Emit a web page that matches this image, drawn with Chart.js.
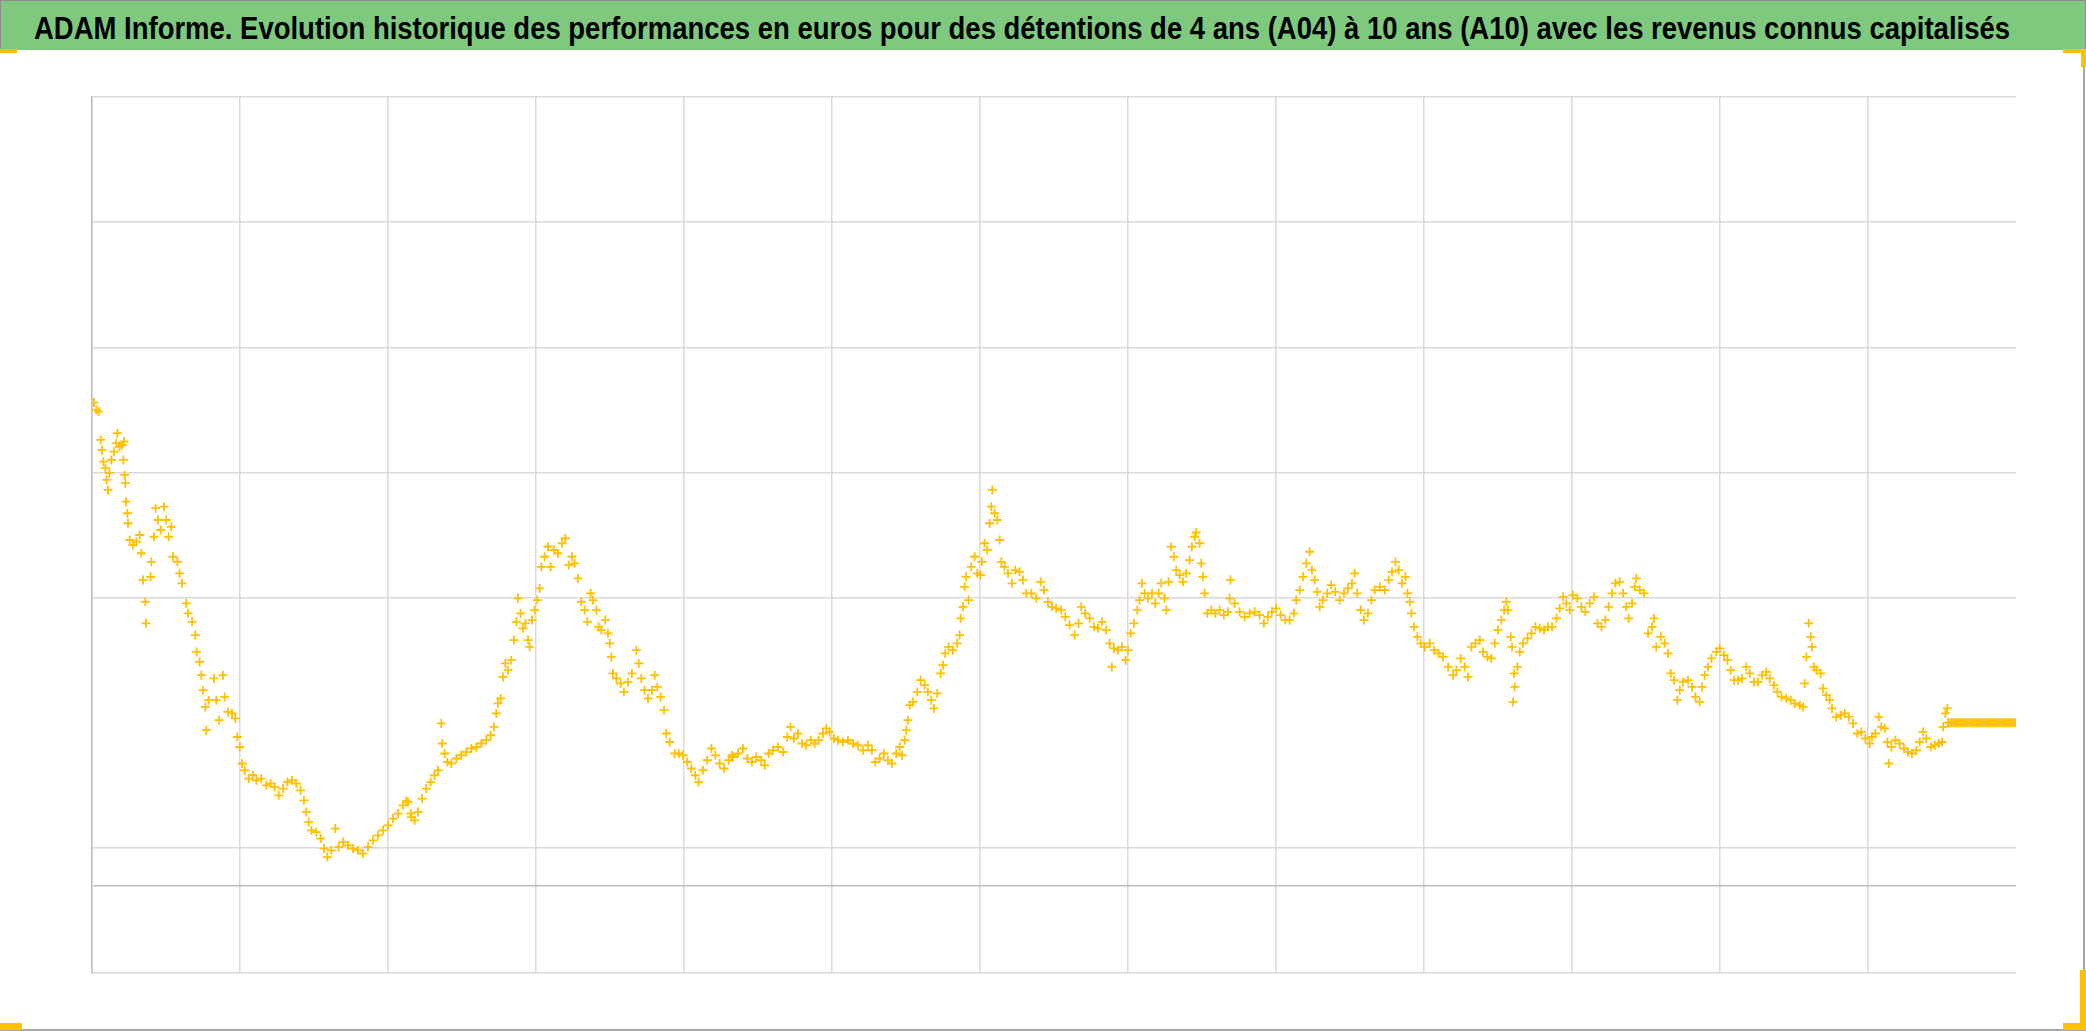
<!DOCTYPE html>
<html>
<head>
<meta charset="utf-8">
<title>ADAM Informe</title>
<script src="https://cdn.jsdelivr.net/npm/chart.js@4/dist/chart.umd.min.js"></script>
<style>
    html, body { margin: 0; padding: 0; background: #fff; }
    #wrap { position: relative; width: 2086px; height: 1031px; overflow: hidden; }
    #chart { position: absolute; left: 0; top: 0; }
    #title {
        position: absolute; left: 0; top: 0; width: 2084px; height: 49px;
        background: #7ec97e; border: 1px solid #8c8c8c; border-bottom: none;
    }
    #title span {
        position: absolute; left: 33px; top: 12px; color: #000;
        font: bold 31px 'Liberation Sans Narrow', 'Liberation Sans', sans-serif;
        line-height: 1; white-space: nowrap; transform-origin: 0 0;
    }
    .frame { position: absolute; background: #a6a6a6; }
    .handle { position: absolute; background: #ffc000; }
</style>
</head>
<body>
<div id="wrap">
    <canvas id="chart" width="2086" height="1031"></canvas>
    <div id="title"><span>ADAM Informe. Evolution historique des performances en euros pour des détentions de 4 ans (A04) à 10 ans (A10) avec les revenus connus capitalisés</span></div>
    <div class="frame" style="left:2083px;top:50px;width:2px;height:981px"></div>
    <div class="frame" style="left:0;top:1029px;width:2086px;height:2px"></div>
    <div class="handle" style="left:0;top:49px;width:17px;height:4px"></div>
    <div class="handle" style="left:2063px;top:49px;width:23px;height:4px"></div>
    <div class="handle" style="left:2081px;top:49px;width:5px;height:18px"></div>
    <div class="handle" style="left:0;top:1023px;width:22px;height:7px"></div>
    <div class="handle" style="left:2063px;top:1023px;width:23px;height:7px"></div>
    <div class="handle" style="left:2080px;top:970px;width:6px;height:60px"></div>
</div>
<script>
// [year, performance %]
const perf2011_2013 = [
    [2011.013,192.9],[2011.029,190.0],[2011.045,189.3],[2011.059,178.0],[2011.068,174.0],[2011.077,169.3],
    [2011.090,166.7],[2011.099,162.0],[2011.108,158.0],[2011.117,164.7],[2011.131,170.0],[2011.149,173.3],
    [2011.164,176.7],[2011.171,180.7],[2011.187,175.3],[2011.203,176.0],[2011.216,177.3],[2011.212,170.0],
    [2011.221,164.0],[2011.225,160.7],[2011.230,153.3],[2011.239,148.7],[2011.243,144.7],[2011.255,138.0],
    [2011.277,136.0],[2011.300,137.3],[2011.322,140.0],[2011.333,132.7],[2011.345,122.0],[2011.360,113.3],
    [2011.365,104.7],[2011.396,123.3],[2011.401,129.3],[2011.419,139.3],[2011.430,150.7],[2011.446,146.0],
    [2011.464,142.0],[2011.486,151.3],[2011.502,146.0],[2011.518,139.3],[2011.536,143.3],[2011.547,131.3],
    [2011.577,129.3],[2011.592,124.7],[2011.608,120.7],[2011.637,112.7],[2011.649,108.7],[2011.676,105.3],
    [2011.698,100.0],[2011.707,93.3],[2011.727,89.3],[2011.739,84.0],[2011.750,78.0],[2011.766,71.3],
    [2011.772,62.0],[2011.788,74.0],[2011.824,82.7],[2011.840,74.0],[2011.858,66.0],[2011.885,84.0],
    [2011.896,75.3],[2011.919,69.3],[2011.946,68.7],[2011.968,66.7],[2011.982,59.3],[2011.998,55.3],
    [2012.014,48.7],[2012.032,46.0],[2012.059,42.7],[2012.088,44.0],[2012.110,42.0],[2012.144,42.7],
    [2012.178,40.0],[2012.207,40.7],[2012.234,39.3],[2012.261,36.0],[2012.291,38.7],[2012.320,41.3],
    [2012.351,42.0],[2012.380,40.7],[2012.410,38.0],[2012.432,34.0],[2012.448,29.3],[2012.464,25.3],
    [2012.482,22.0],[2012.516,21.3],[2012.545,18.7],[2012.568,14.7],[2012.590,11.3],[2012.617,14.0],
    [2012.644,22.7],[2012.667,15.3],[2012.696,17.3],[2012.730,16.0],[2012.764,14.7],[2012.797,14.0],
    [2012.831,12.7],[2012.865,15.3],[2012.899,18.0],[2012.932,20.0],[2012.966,22.0],[2013.000,24.0],
    [2013.034,26.7],[2013.068,28.7],[2013.101,32.0],[2013.124,33.7],[2013.153,28.7]
];
const perf2013_2015 = [
    [2013.135,33.3],[2013.158,27.3],[2013.180,26.0],[2013.203,29.3],[2013.230,34.7],[2013.259,38.7],
    [2013.288,41.3],[2013.315,44.0],[2013.338,46.0],[2013.360,64.7],[2013.367,56.7],[2013.383,52.7],
    [2013.401,49.3],[2013.428,48.7],[2013.462,50.7],[2013.495,52.0],[2013.529,53.3],[2013.563,54.7],
    [2013.597,55.3],[2013.630,56.7],[2013.664,58.0],[2013.694,60.0],[2013.716,63.3],[2013.732,68.7],
    [2013.743,72.7],[2013.761,74.7],[2013.777,83.3],[2013.793,88.7],[2013.811,86.0],[2013.833,90.0],
    [2013.851,98.0],[2013.867,105.3],[2013.878,114.7],[2013.896,108.7],[2013.912,102.7],[2013.928,104.7],
    [2013.946,98.0],[2013.957,95.3],[2013.973,106.0],[2013.991,110.0],[2014.009,114.0],[2014.025,118.7],
    [2014.036,127.3],[2014.058,131.3],[2014.081,135.3],[2014.099,127.3],[2014.121,134.0],[2014.148,132.7],
    [2014.176,136.7],[2014.198,138.7],[2014.221,128.0],[2014.243,131.3],[2014.261,128.7],[2014.284,122.7],
    [2014.306,113.3],[2014.329,110.0],[2014.347,105.3],[2014.369,116.7],[2014.385,114.0],[2014.408,110.0],
    [2014.423,103.3],[2014.441,102.0],[2014.468,106.0],[2014.486,100.7],[2014.498,96.7],[2014.509,91.3],
    [2014.520,84.7],[2014.543,82.7],[2014.572,80.7],[2014.594,77.3],[2014.621,81.3],[2014.648,84.7],
    [2014.678,94.0],[2014.694,88.7],[2014.712,82.7],[2014.734,78.0],[2014.757,74.7],[2014.784,78.0],
    [2014.802,84.0],[2014.820,79.3],[2014.842,75.3],[2014.865,70.0],[2014.880,60.7],[2014.903,57.3],
    [2014.937,52.7],[2014.964,52.7],[2014.993,52.0],[2015.022,49.3],[2015.049,46.7],[2015.076,44.0],
    [2015.099,41.3],[2015.128,46.0],[2015.157,50.0],[2015.185,54.7],[2015.212,52.0],[2015.241,48.7],
    [2015.270,46.7],[2015.302,50.0],[2015.324,52.0]
];
const perf2015_2017 = [
    [2015.331,51.3],[2015.365,52.7],[2015.398,54.7],[2015.428,50.7],[2015.459,49.3],[2015.488,51.3],
    [2015.522,50.0],[2015.545,48.0],[2015.572,52.7],[2015.601,54.0],[2015.635,55.3],[2015.669,53.3],
    [2015.698,59.3],[2015.720,63.3],[2015.743,58.7],[2015.770,60.7],[2015.797,56.7],[2015.826,56.0],
    [2015.856,58.0],[2015.883,56.7],[2015.910,58.0],[2015.939,60.7],[2015.961,62.7],[2015.984,61.3],
    [2016.013,58.7],[2016.040,58.0],[2016.074,57.3],[2016.108,58.0],[2016.142,56.7],[2016.175,56.0],
    [2016.209,54.0],[2016.243,56.0],[2016.270,54.0],[2016.292,49.3],[2016.322,50.7],[2016.351,52.7],
    [2016.378,50.0],[2016.405,48.7],[2016.434,52.7],[2016.457,55.3],[2016.473,52.0],[2016.491,58.0],
    [2016.502,62.0],[2016.513,66.0],[2016.525,72.0],[2016.547,73.3],[2016.576,77.3],[2016.599,82.0],
    [2016.626,80.0],[2016.648,77.3],[2016.671,74.0],[2016.689,70.7],[2016.711,76.7],[2016.734,84.7],
    [2016.750,88.0],[2016.765,92.7],[2016.788,95.3],[2016.817,94.0],[2016.846,96.7],[2016.862,100.0],
    [2016.869,106.7],[2016.885,111.3],[2016.896,119.3],[2016.907,123.3],[2016.923,114.0],[2016.941,127.3],
    [2016.964,131.3],[2016.982,124.7],[2017.004,124.0],[2017.013,129.3],[2017.031,136.7],[2017.049,134.0],
    [2017.065,144.7],[2017.076,151.3],[2017.083,158.0],[2017.099,148.7],[2017.117,146.0],[2017.133,138.0],
    [2017.144,129.3],[2017.166,127.3],[2017.189,124.7],[2017.216,120.7],[2017.238,126.0],[2017.268,125.3],
    [2017.290,122.0],[2017.313,116.7],[2017.347,116.7],[2017.380,114.7],[2017.410,121.3],[2017.432,118.0],
    [2017.459,113.3]
];
const perf2017_2019 = [
    [2017.486,111.3],[2017.515,110.7],[2017.549,110.0],[2017.576,107.3],[2017.605,104.0],[2017.639,100.0],
    [2017.666,104.7],[2017.684,111.3],[2017.711,108.7],[2017.741,106.7],[2017.770,103.3],[2017.797,102.7],
    [2017.824,105.3],[2017.853,102.0],[2017.876,96.7],[2017.891,87.3],[2017.905,94.7],[2017.932,94.0],
    [2017.959,95.3],[2017.984,90.0],[2018.000,94.0],[2018.018,100.7],[2018.040,104.7],[2018.063,110.0],
    [2018.078,114.0],[2018.094,120.7],[2018.112,116.7],[2018.135,114.7],[2018.162,116.7],[2018.184,112.7],
    [2018.207,116.7],[2018.225,120.7],[2018.247,114.7],[2018.259,110.0],[2018.274,121.3],[2018.292,135.3],
    [2018.310,131.3],[2018.326,126.0],[2018.349,124.0],[2018.371,121.3],[2018.394,124.7],[2018.416,130.0],
    [2018.432,135.3],[2018.450,139.3],[2018.461,141.0],[2018.484,136.7],[2018.495,128.7],[2018.506,123.3],
    [2018.518,116.7],[2018.536,108.7],[2018.563,110.0],[2018.590,108.7],[2018.619,110.0],[2018.648,108.0],
    [2018.675,109.3],[2018.693,122.0],[2018.686,114.7],[2018.720,112.7],[2018.754,109.3],[2018.788,107.3],
    [2018.822,108.7],[2018.855,109.3],[2018.889,108.0],[2018.918,104.7],[2018.945,107.3],[2018.972,109.3],
    [2019.002,110.7],[2019.031,108.0],[2019.063,106.0],[2019.092,106.0],[2019.121,108.7],[2019.137,114.0],
    [2019.160,118.0],[2019.182,123.3],[2019.205,128.7],[2019.227,133.3],[2019.243,126.0],[2019.261,122.0],
    [2019.279,117.3],[2019.295,111.3],[2019.317,114.0],[2019.346,116.7],[2019.373,120.0],[2019.400,117.3],
    [2019.430,114.0],[2019.459,116.7],[2019.486,118.7],[2019.513,120.7],[2019.531,124.7],[2019.549,116.7],
    [2019.572,110.0],[2019.594,106.0],[2019.621,108.7]
];
const perf2019_2021 = [
    [2019.645,114.0],[2019.667,118.0],[2019.701,119.3],[2019.735,118.0],[2019.762,122.0],[2019.784,125.3],
    [2019.807,129.3],[2019.829,126.0],[2019.852,120.7],[2019.874,123.3],[2019.888,116.7],[2019.904,113.3],
    [2019.915,108.7],[2019.933,103.3],[2019.955,99.3],[2019.978,96.7],[2020.005,95.3],[2020.039,96.7],
    [2020.068,94.0],[2020.099,92.7],[2020.129,91.3],[2020.163,87.3],[2020.196,84.0],[2020.219,86.0],
    [2020.248,90.7],[2020.275,87.3],[2020.298,83.3],[2020.320,95.3],[2020.347,96.7],[2020.377,98.0],
    [2020.399,93.3],[2020.428,91.3],[2020.455,90.7],[2020.478,96.7],[2020.500,102.0],[2020.523,106.0],
    [2020.541,110.0],[2020.557,113.3],[2020.568,110.0],[2020.586,99.3],[2020.595,95.3],[2020.609,84.7],
    [2020.613,79.3],[2020.602,73.3],[2020.631,87.3],[2020.647,93.3],[2020.669,96.7],[2020.699,98.7],
    [2020.726,100.7],[2020.753,103.3],[2020.782,102.7],[2020.811,102.0],[2020.838,103.3],[2020.865,103.3],
    [2020.895,106.7],[2020.917,110.7],[2020.940,115.3],[2020.962,112.7],[2020.985,110.0],[2021.007,116.0],
    [2021.036,114.7],[2021.063,111.3],[2021.090,109.3],[2021.120,112.7],[2021.149,115.3],[2021.172,104.7],
    [2021.199,103.3],[2021.226,106.0],[2021.248,111.3],[2021.271,116.7],[2021.293,120.7],[2021.322,121.3],
    [2021.345,116.7],[2021.367,111.3],[2021.383,106.7],[2021.406,112.7],[2021.424,119.3],[2021.435,122.7],
    [2021.458,118.0],[2021.487,116.7],[2021.514,100.7],[2021.541,103.3],[2021.554,106.7],[2021.570,95.3],
    [2021.600,99.3],[2021.626,96.7],[2021.649,92.7],[2021.667,84.7],[2021.690,82.0],[2021.712,74.0],
    [2021.728,78.0],[2021.750,81.3],[2021.784,82.0],[2021.811,79.3]
];
const perf2021_2023 = [
    [2021.834,75.3],[2021.863,73.3],[2021.879,79.3],[2021.897,84.0],[2021.919,87.3],[2021.942,90.7],
    [2021.975,93.3],[2021.998,94.7],[2022.027,92.0],[2022.050,90.0],[2022.072,86.0],[2022.095,82.0],
    [2022.122,82.0],[2022.149,82.7],[2022.178,87.3],[2022.201,84.7],[2022.230,81.3],[2022.257,81.3],
    [2022.284,84.0],[2022.313,85.3],[2022.336,82.7],[2022.365,80.0],[2022.388,77.3],[2022.415,75.3],
    [2022.448,74.7],[2022.478,74.0],[2022.505,72.7],[2022.539,72.0],[2022.561,71.3],[2022.572,80.7],
    [2022.584,91.3],[2022.599,104.7],[2022.613,99.3],[2022.622,95.3],[2022.635,87.3],[2022.651,86.0],
    [2022.680,84.7],[2022.696,78.7],[2022.719,76.0],[2022.741,74.0],[2022.757,70.7],[2022.786,67.3],
    [2022.816,68.0],[2022.843,68.7],[2022.870,67.3],[2022.899,64.7],[2022.928,60.7],[2022.955,61.3],
    [2022.982,58.7],[2023.011,56.7],[2023.027,59.3],[2023.050,60.7],[2023.072,67.3],[2023.090,63.3],
    [2023.113,62.7],[2023.131,57.3],[2023.140,48.7],[2023.158,55.3],[2023.185,58.0],[2023.214,56.7],
    [2023.243,54.7],[2023.270,53.3],[2023.297,52.7],[2023.327,54.0],[2023.349,57.3],[2023.372,61.3],
    [2023.394,58.7],[2023.424,55.3],[2023.451,56.0],[2023.478,56.7],[2023.500,57.3],[2023.507,63.3],
    [2023.523,68.7],[2023.536,70.7]
];
// last months: known revenues only, flat
const perfKnown = [
    [2023.540,65],[2023.552,65],[2023.564,65],[2023.576,65],[2023.588,65],[2023.600,65],[2023.612,65],
    [2023.624,65],[2023.636,65],[2023.648,65],[2023.660,65],[2023.672,65],[2023.684,65],[2023.696,65],
    [2023.708,65],[2023.720,65],[2023.732,65],[2023.744,65],[2023.756,65],[2023.768,65],[2023.780,65],
    [2023.792,65],[2023.804,65],[2023.816,65],[2023.828,65],[2023.840,65],[2023.852,65],[2023.864,65],
    [2023.876,65],[2023.888,65],[2023.900,65],[2023.912,65],[2023.924,65],[2023.936,65],[2023.948,65],
    [2023.960,65],[2023.972,65],[2023.984,65],[2023.996,65]
];

const yearTicks = [2011, 2012, 2013, 2014, 2015, 2016, 2017, 2018, 2019, 2020, 2021, 2022, 2023, 2024];
const valueGrid = [-35, 0, 15, 115, 165, 215, 265, 315];

const points = [].concat(perf2011_2013, perf2013_2015, perf2015_2017, perf2017_2019,
    perf2019_2021, perf2021_2023, perfKnown).map(p => ({ x: p[0], y: p[1] }));

const ctx = document.getElementById('chart').getContext('2d');
new Chart(ctx, {
    type: 'scatter',
    data: {
        datasets: [{
            label: 'Performance',
            data: points,
            pointStyle: 'cross',
            pointRadius: 4.5,
            pointBorderWidth: 1.8,
            borderColor: '#ffc000',
            backgroundColor: '#ffc000'
        }]
    },
    options: {
        responsive: false,
        devicePixelRatio: 1,
        animation: false,
        layout: { padding: { left: 92, right: 70, top: 97, bottom: 58 } },
        plugins: { legend: { display: false }, tooltip: { enabled: false } },
        scales: {
            x: {
                type: 'linear',
                min: yearTicks[0],
                max: yearTicks[yearTicks.length - 1],
                afterBuildTicks: axis => { axis.ticks = yearTicks.map(v => ({ value: v })); },
                ticks: { display: false },
                border: { display: false },
                grid: {
                    drawTicks: false,
                    lineWidth: 1.5,
                    color: c => c.tick && c.tick.value === 2024 ? 'rgba(0,0,0,0)' : '#d9d9d9'
                }
            },
            y: {
                min: -35,
                max: 315,
                afterBuildTicks: axis => { axis.ticks = valueGrid.map(v => ({ value: v })); },
                ticks: { display: false },
                border: { color: '#bfbfbf', width: 1.5 },
                grid: {
                    drawTicks: false,
                    lineWidth: 1.5,
                    color: c => c.tick && c.tick.value === 0 ? '#bfbfbf' : '#d9d9d9'
                }
            }
        }
    }
});

// stretch the title to the width it has in the picture
const span = document.querySelector('#title span');
const w = span.getBoundingClientRect().width;
span.style.transform = 'scaleX(' + (1976 / w) + ')';
</script>
</body>
</html>
